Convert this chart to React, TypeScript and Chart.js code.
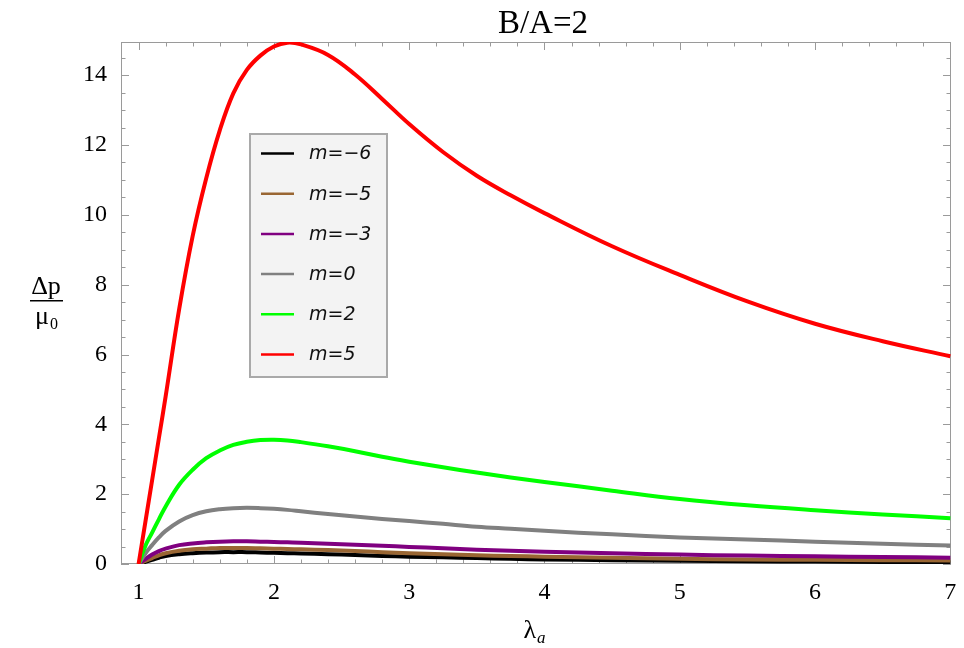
import React, { useEffect, useRef } from "react";
import { Chart, registerables } from "chart.js";
Chart.register(...registerables);

const chartTitle = "B/A=2";
const lambdaA = [1, 1.05, 1.1, 1.15, 1.2, 1.3, 1.4, 1.5, 1.6, 1.7, 1.8, 1.9, 2.0, 2.1, 2.2, 2.4, 2.6, 2.8, 3.0, 3.25, 3.5, 3.75, 4.0, 4.5, 5.0, 5.5, 6.0, 6.5, 7.0];

const mMinus6 = [0, 0.06, 0.12, 0.18, 0.23, 0.28, 0.31, 0.33, 0.34, 0.34, 0.34, 0.33, 0.32, 0.31, 0.3, 0.28, 0.26, 0.23, 0.21, 0.19, 0.17, 0.15, 0.13, 0.11, 0.09, 0.08, 0.07, 0.06, 0.05];
const mMinus5 = [0, 0.09, 0.17, 0.25, 0.31, 0.38, 0.42, 0.44, 0.46, 0.46, 0.46, 0.45, 0.44, 0.43, 0.42, 0.4, 0.37, 0.34, 0.31, 0.28, 0.25, 0.23, 0.21, 0.18, 0.15, 0.13, 0.12, 0.11, 0.1];
const mMinus3 = [0, 0.14, 0.27, 0.37, 0.44, 0.54, 0.59, 0.62, 0.64, 0.65, 0.65, 0.64, 0.63, 0.62, 0.61, 0.58, 0.55, 0.52, 0.49, 0.45, 0.41, 0.38, 0.35, 0.31, 0.27, 0.24, 0.22, 0.2, 0.18];
const m0 = [0, 0.3, 0.54, 0.76, 0.95, 1.22, 1.4, 1.51, 1.57, 1.6, 1.61, 1.6, 1.58, 1.55, 1.51, 1.43, 1.36, 1.29, 1.23, 1.15, 1.07, 1.01, 0.95, 0.85, 0.76, 0.7, 0.64, 0.58, 0.53];
const m2 = [0, 0.52, 0.9, 1.28, 1.65, 2.27, 2.7, 3.03, 3.25, 3.41, 3.5, 3.55, 3.56, 3.54, 3.49, 3.37, 3.23, 3.07, 2.93, 2.77, 2.62, 2.48, 2.35, 2.1, 1.86, 1.68, 1.54, 1.42, 1.31];
const m5 = [0, 1.2, 2.4, 3.6, 4.8, 7.3, 9.4, 11.05, 12.42, 13.48, 14.15, 14.56, 14.82, 14.93, 14.88, 14.58, 14.02, 13.32, 12.6, 11.8, 11.12, 10.56, 10.05, 9.1, 8.28, 7.52, 6.88, 6.38, 5.95];

const seriesLabels = ["m=\u22126", "m=\u22125", "m=\u22123", "m=0", "m=2", "m=5"];
const seriesValues = [mMinus6, mMinus5, mMinus3, m0, m2, m5];
const seriesColors = ["#000000", "#996633", "#800080", "#808080", "#00ff00", "#ff0000"];

const xTicks = [1, 2, 3, 4, 5, 6, 7];
const yTicks = [0, 2, 4, 6, 8, 10, 12, 14];
const xMinorStep = 0.2;
const yMinorStep = 0.5;
const xRange = [0.87, 7.005];
const yRange = [0, 14.95];

const SERIF = "'Liberation Serif', 'Times New Roman', serif";
const FRAME = "#9a9a9a";

const framePlugin = {
  id: "frameTicks",
  beforeDatasetsDraw(chart: any) {
    const { ctx, chartArea: a, scales } = chart;
    const xs = scales.x, ys = scales.y;
    ctx.save();
    ctx.strokeStyle = FRAME;
    ctx.lineWidth = 1;
    ctx.strokeRect(a.left + 0.5, a.top + 0.5, a.right - a.left - 1, a.bottom - a.top - 1);
    ctx.beginPath();
    const isMajor = (v: number, arr: number[]) => arr.some((t) => Math.abs(t - v) < 1e-6);
    for (let i = Math.ceil(xRange[0] / xMinorStep); i * xMinorStep <= xRange[1] + 1e-9; i++) {
      const v = i * xMinorStep;
      const p = Math.round(xs.getPixelForValue(v)) + 0.5;
      const len = isMajor(v, xTicks) ? 8 : 4.5;
      ctx.moveTo(p, a.bottom); ctx.lineTo(p, a.bottom - len);
      ctx.moveTo(p, a.top); ctx.lineTo(p, a.top + len);
    }
    for (let i = Math.ceil(yRange[0] / yMinorStep); i * yMinorStep <= yRange[1] + 1e-9; i++) {
      const v = i * yMinorStep;
      const p = Math.round(ys.getPixelForValue(v)) + 0.5;
      const len = isMajor(v, yTicks) ? 8 : 4.5;
      ctx.moveTo(a.left, p); ctx.lineTo(a.left + len, p);
      ctx.moveTo(a.right, p); ctx.lineTo(a.right - len, p);
    }
    ctx.stroke();
    ctx.restore();
  },
  afterDatasetsDraw(chart: any) {
    const { ctx } = chart;
    ctx.save();
    const bx = 250, by = 134, bw = 137, bh = 243;
    ctx.fillStyle = "#f3f3f3";
    ctx.fillRect(bx, by, bw, bh);
    ctx.strokeStyle = "#a9a9a9";
    ctx.lineWidth = 2;
    ctx.strokeRect(bx, by, bw, bh);
    ctx.font = "italic 19px 'DejaVu Sans', sans-serif";
    ctx.textBaseline = "middle";
    ctx.textAlign = "left";
    chart.data.datasets.forEach((ds: any, i: number) => {
      const y = 153.5 + i * 40.2;
      ctx.strokeStyle = ds.borderColor;
      ctx.lineWidth = 2.5;
      ctx.beginPath();
      ctx.moveTo(261, y);
      ctx.lineTo(294, y);
      ctx.stroke();
      ctx.fillStyle = "#111";
      ctx.fillText(ds.label, 309, y + 1);
    });
    ctx.restore();
  },
  afterDraw(chart: any) {
    const { ctx, chartArea: a } = chart;
    ctx.save();
    ctx.fillStyle = "#000";
    ctx.font = `33px ${SERIF}`;
    ctx.textAlign = "center";
    ctx.textBaseline = "alphabetic";
    ctx.fillText(chartTitle, 543, 33);
    const cx = (a.left + a.right) / 2 - 2;
    ctx.font = `26px ${SERIF}`;
    ctx.textAlign = "right";
    ctx.fillText("\u03bb", cx + 2, 638);
    ctx.font = `italic 17px ${SERIF}`;
    ctx.textAlign = "left";
    ctx.fillText("a", cx + 3, 643);
    const fx = 46;
    ctx.font = `26px ${SERIF}`;
    ctx.textAlign = "center";
    ctx.fillText("\u0394p", fx, 294);
    ctx.fillRect(fx - 16, 300, 33, 1.5);
    ctx.textAlign = "right";
    ctx.fillText("\u03bc", fx + 3, 324);
    ctx.font = `16px ${SERIF}`;
    ctx.textAlign = "left";
    ctx.fillText("0", fx + 4, 329);
    ctx.restore();
  },
};

export default function App() {
  const canvasRef = useRef<HTMLCanvasElement | null>(null);
  useEffect(() => {
    const canvas = canvasRef.current;
    if (!canvas) return;
    const chart = new Chart(canvas, {
      type: "line",
      data: {
        datasets: seriesLabels.map((label, i) => ({
          label,
          data: lambdaA.map((x, j) => ({ x, y: seriesValues[i][j] })),
          borderColor: seriesColors[i],
          backgroundColor: seriesColors[i],
          borderWidth: 4,
          pointRadius: 0,
          tension: 0.4,
          fill: false,
          order: seriesLabels.length - i,
        })),
      },
      options: {
        animation: false,
        responsive: false,
        devicePixelRatio: 1,
        layout: { padding: { top: 42, right: 13, left: 0, bottom: 0 } },
        plugins: { legend: { display: false }, tooltip: { enabled: false }, title: { display: false } },
        scales: {
          x: {
            type: "linear",
            min: xRange[0],
            max: xRange[1],
            grid: { display: false, drawTicks: false },
            border: { display: false },
            afterBuildTicks: (s: any) => { s.ticks = xTicks.map((v) => ({ value: v })); },
            afterFit: (s: any) => { s.height = 84; s.paddingLeft = 0; s.paddingRight = 0; },
            ticks: {
              color: "#000",
              font: { family: SERIF, size: 24 },
              padding: 14,
              maxRotation: 0,
              autoSkip: false,
              callback: (v: any) => String(v),
            },
          },
          y: {
            type: "linear",
            min: yRange[0],
            max: yRange[1],
            grid: { display: false, drawTicks: false },
            border: { display: false },
            afterBuildTicks: (s: any) => { s.ticks = yTicks.map((v) => ({ value: v })); },
            afterFit: (s: any) => { s.width = 121; s.paddingTop = 0; s.paddingBottom = 0; },
            ticks: {
              color: "#000",
              font: { family: SERIF, size: 24 },
              padding: 14,
              autoSkip: false,
              callback: (v: any) => String(v),
            },
          },
        },
      },
      plugins: [framePlugin],
    });
    return () => chart.destroy();
  }, []);
  return (
    <div style={{ position: "absolute", left: 0, top: 0, width: 964, height: 648, background: "#fff" }}>
      <canvas ref={canvasRef} width={964} height={648} style={{ display: "block" }} />
    </div>
  );
}
